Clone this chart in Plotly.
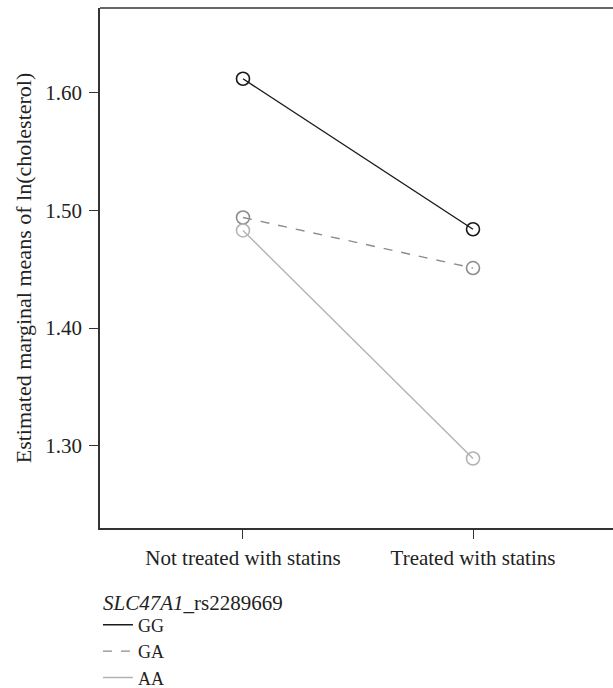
import plotly.graph_objects as go

categories = ["Not treated with statins", "Treated with statins"]
genotypes = ["GG", "GA", "AA"]
gg_values = [1.612, 1.484]
ga_values = [1.494, 1.451]
aa_values = [1.483, 1.289]
y_ticks = [1.30, 1.40, 1.50, 1.60]
y_tick_labels = ["1.30", "1.40", "1.50", "1.60"]
legend_title = "<i>SLC47A1</i>_rs2289669"

series = [gg_values, ga_values, aa_values]
colors = ["#1a1a1a", "#8c8c8c", "#b3b3b3"]
dashes = ["solid", "dash", "solid"]

FONT = "Liberation Serif"
fig = go.Figure()
for name, vals, c, d in zip(genotypes, series, colors, dashes):
    fig.add_trace(go.Scatter(
        x=categories, y=vals, mode="lines+markers", name=name,
        line=dict(color=c, width=1.4, dash=d),
        marker=dict(symbol="circle-open", size=13, color=c, line=dict(width=1.6, color=c)),
        showlegend=False, hoverinfo="skip"))
    fig.add_trace(go.Scatter(
        x=[None], y=[None], mode="lines", name=name,
        line=dict(color=c, width=1.4, dash=d), showlegend=True))

fig.update_layout(
    width=613, height=688,
    margin=dict(l=100, r=0, t=8, b=160, autoexpand=False),
    paper_bgcolor="white", plot_bgcolor="white",
    font=dict(family=FONT, size=21, color="#222222"),
    showlegend=True,
    legend=dict(
        x=-0.004, xanchor="left", y=-0.151, yanchor="top",
        bgcolor="rgba(0,0,0,0)", font=dict(family=FONT, size=18),
        tracegroupgap=0, itemwidth=30),
    xaxis=dict(
        type="category", range=[-0.6217, 1.6087],
        showline=True, linecolor="#333333", linewidth=1.5,
        ticks="outside", ticklen=9, tickcolor="#333333", tickwidth=1.2,
        ticklabelstandoff=1,
        showgrid=False, zeroline=False, automargin=False,
        tickfont=dict(family=FONT, size=21, color="#222222")),
    yaxis=dict(
        range=[1.2299, 1.6722],
        tickvals=y_ticks, ticktext=y_tick_labels,
        showline=True, linecolor="#333333", linewidth=1.5,
        ticks="outside", ticklen=9, tickcolor="#333333", tickwidth=1.2,
        ticklabelstandoff=3,
        showgrid=False, zeroline=False, automargin=False,
        tickfont=dict(family=FONT, size=21, color="#222222"),
        title=dict(text="Estimated marginal means of ln(cholesterol)",
                   font=dict(family=FONT, size=22, color="#222222"), standoff=8)),
)
fig.add_annotation(text=legend_title, xref="paper", yref="paper",
                   x=0.002, y=-0.1442, xanchor="left", yanchor="middle",
                   showarrow=False, font=dict(family=FONT, size=21, color="#222222"))
fig.add_shape(type="line", xref="paper", yref="paper", x0=0, x1=1, y0=1, y1=1,
              line=dict(color="#333333", width=1.5))

fig.write_html("out.html",
               config={"displayModeBar": False},
               post_script="document.body.style.margin='0';document.body.style.overflow='hidden';")
